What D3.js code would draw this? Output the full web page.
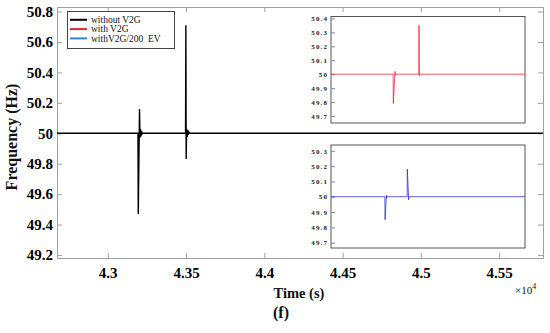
<!DOCTYPE html>
<html>
<head>
<meta charset="utf-8">
<script src="https://cdn.jsdelivr.net/npm/d3@7"></script>
<style>
  body { margin: 0; background: #fff; }
  svg text { font-family: "Liberation Serif", "Times New Roman", serif; }
</style>
</head>
<body>
<svg id="chart" width="550" height="333"></svg>
<script>
// main trace, without V2G (time in units of 10^4 s)
var blackT = [4.2676, 4.3193, 4.3195, 4.3203, 4.3206, 4.3209, 4.3212, 4.3216, 4.3220, 4.3226,
              4.3497, 4.3499, 4.3501, 4.3504, 4.3507, 4.3510, 4.3514, 4.3518, 4.3525, 4.578];
var blackF = [50, 50, 49.47, 50.16, 49.97, 50.03, 49.98, 50.015, 49.995, 50,
              50, 50.71, 49.83, 50.03, 49.975, 50.02, 49.99, 50.008, 50, 50];

// inset 1, with V2G
var redT = [4.2676, 4.3670, 4.3673, 4.3700, 4.3703, 4.3707, 4.4082, 4.4084, 4.4089, 4.4093, 4.578];
var redF = [50, 50, 49.79, 50.02, 49.99, 50, 50, 50.35, 49.99, 50, 50];

// inset 2, with V2G / 200 EV
var blueT = [4.2676, 4.3538, 4.3541, 4.3562, 4.3565, 4.3568, 4.3895, 4.3897, 4.3919, 4.3923, 4.578];
var blueF = [50, 50, 49.85, 50.01, 49.99, 50, 50, 50.18, 49.98, 50, 50];

var xTicks = [4.3, 4.35, 4.4, 4.45, 4.5, 4.55];
var yTicks = [49.2, 49.4, 49.6, 49.8, 50, 50.2, 50.4, 50.6, 50.8];
var inset1Ticks = [49.7, 49.8, 49.9, 50, 50.1, 50.2, 50.3, 50.4];
var inset2Ticks = [49.7, 49.8, 49.9, 50, 50.1, 50.2, 50.3];

var legendNames = ["without V2G", "with V2G", "withV2G/200  EV"];
var legendColors = ["#000000", "#e3262b", "#2f86d8"];

var svg = d3.select("#chart");

var margin = {top: 7, right: 7, bottom: 75, left: 57},
    width = 550 - margin.left - margin.right,
    height = 333 - margin.top - margin.bottom;

var x = d3.scaleLinear().domain([4.2676, 4.578]).range([margin.left, margin.left + width]);
var y = d3.scaleLinear().domain([49.18, 50.83]).range([margin.top + height, margin.top]);

function fmt(d) { return d == 50 ? "50" : d3.format(".1f")(d); }
function fmtX(d) { return d3.format("")(+d.toFixed(2)); }

function styleAxis(sel) {
  sel.attr("font-family", null);
  sel.selectAll(".domain").attr("stroke", "#a0a0a0");
  sel.selectAll(".tick line").attr("stroke", "#a0a0a0");
  sel.selectAll("text")
    .attr("font-weight", "bold")
    .attr("font-size", 15)
    .attr("fill", "#000");
}

// axes, MATLAB box style with inward ticks
svg.append("g")
    .attr("transform", "translate(0," + (margin.top + height) + ")")
    .call(d3.axisBottom(x).tickValues(xTicks).tickFormat(fmtX).tickSizeInner(-5).tickSizeOuter(0).tickPadding(9))
    .call(styleAxis);

svg.append("g")
    .attr("transform", "translate(0," + margin.top + ")")
    .call(d3.axisTop(x).tickValues(xTicks).tickFormat("").tickSizeInner(-5).tickSizeOuter(0))
    .call(styleAxis);

svg.append("g")
    .attr("transform", "translate(" + margin.left + ",0)")
    .call(d3.axisLeft(y).tickValues(yTicks).tickFormat(fmt).tickSizeInner(-5).tickSizeOuter(0).tickPadding(4))
    .call(styleAxis);

svg.append("g")
    .attr("transform", "translate(" + (margin.left + width) + ",0)")
    .call(d3.axisRight(y).tickValues(yTicks).tickFormat("").tickSizeInner(-5).tickSizeOuter(0))
    .call(styleAxis);

// main line
var mainLine = d3.line()
    .x(function(d, i) { return x(blackT[i]); })
    .y(function(d) { return y(d); });

svg.append("path")
    .datum(blackF)
    .attr("fill", "none")
    .attr("stroke", "#000")
    .attr("stroke-width", 1.4)
    .attr("d", mainLine);

// insets
function drawInset(box, domainY, ticks, times, values, color) {
  var ix = d3.scaleLinear().domain(x.domain()).range([box.x0, box.x1]);
  var iy = d3.scaleLinear().domain(domainY).range([box.y1, box.y0]);
  var g = svg.append("g");

  g.append("rect")
      .attr("x", box.x0).attr("y", box.y0)
      .attr("width", box.x1 - box.x0).attr("height", box.y1 - box.y0)
      .attr("fill", "#fff")
      .attr("stroke", "#555")
      .attr("stroke-width", 1);

  var ax = g.append("g")
      .attr("transform", "translate(" + box.x0 + ",0)")
      .call(d3.axisLeft(iy).tickValues(ticks).tickFormat(fmt).tickSizeInner(-4).tickSizeOuter(0).tickPadding(3));
  ax.attr("font-family", null);
  ax.select(".domain").remove();
  ax.selectAll(".tick line").attr("stroke", "#888");
  ax.selectAll("text")
      .attr("font-weight", "bold")
      .attr("font-size", 7)
      .attr("letter-spacing", 1.1)
      .attr("fill", "#222");

  var line = d3.line()
      .x(function(d, i) { return ix(times[i]); })
      .y(function(d) { return iy(d); });

  g.append("path")
      .datum(values)
      .attr("fill", "none")
      .attr("stroke", color)
      .attr("stroke-opacity", 0.75)
      .attr("stroke-width", 1)
      .attr("d", line);
}

drawInset({x0: 331, x1: 525, y0: 16.5, y1: 123}, [49.65, 50.414], inset1Ticks, redT, redF, "#e8202a");
drawInset({x0: 331, x1: 525, y0: 145, y1: 248}, [49.665, 50.338], inset2Ticks, blueT, blueF, "#2828d8");

// legend
var legend = svg.append("g");
legend.append("rect")
    .attr("x", 67.5).attr("y", 11.5)
    .attr("width", 107).attr("height", 37)
    .attr("fill", "#fff")
    .attr("stroke", "#444")
    .attr("stroke-width", 1);

var items = legend.selectAll(".item")
    .data(legendNames)
  .enter().append("g")
    .attr("transform", function(d, i) { return "translate(0," + (19.8 + i * 9.3) + ")"; });

items.append("line")
    .attr("x1", 70).attr("x2", 87)
    .attr("stroke", function(d, i) { return legendColors[i]; })
    .attr("stroke-width", 2);

items.append("text")
    .attr("x", 91)
    .attr("dy", "0.33em")
    .attr("font-size", 9.5)
    .attr("fill", "#111")
    .style("white-space", "pre")
    .text(function(d) { return d; });

// labels
svg.append("text")
    .attr("transform", "translate(17,137) rotate(-90)")
    .attr("text-anchor", "middle")
    .attr("font-weight", "bold")
    .attr("font-size", 16)
    .attr("fill", "#111")
    .text("Frequency (Hz)");

svg.append("text")
    .attr("x", 299).attr("y", 298)
    .attr("text-anchor", "middle")
    .attr("font-weight", "bold")
    .attr("font-size", 14.5)
    .attr("fill", "#111")
    .text("Time (s)");

var mult = svg.append("text")
    .attr("x", 515).attr("y", 294)
    .attr("font-size", 11)
    .attr("fill", "#111");
mult.append("tspan").text("\u00d710");
mult.append("tspan").attr("dy", -5).attr("font-size", 8).text("4");

svg.append("text")
    .attr("x", 281).attr("y", 318)
    .attr("text-anchor", "middle")
    .attr("font-weight", "bold")
    .attr("font-size", 16)
    .attr("fill", "#111")
    .text("(f)");
</script>
</body>
</html>
